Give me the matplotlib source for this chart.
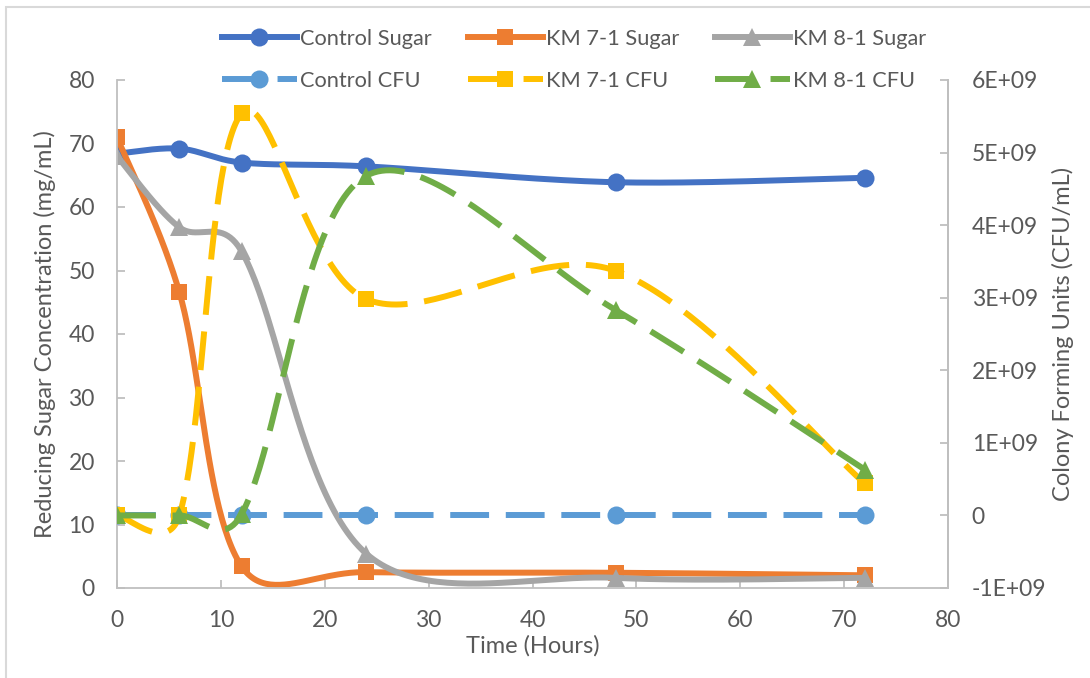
import numpy as np
import matplotlib
matplotlib.use("Agg")
import matplotlib.pyplot as plt
from matplotlib.patches import Rectangle

# time points (hours)
hours = [0, 6, 12, 24, 48, 72]

# reducing sugar (mg/mL), left axis
control_sugar = [68.4, 69.2, 67.0, 66.4, 63.9, 64.6]
km71_sugar = [71.0, 46.6, 3.4, 2.5, 2.4, 2.0]
km81_sugar = [68.0, 56.8, 53.0, 5.4, 1.6, 1.6]

# colony forming units (CFU/mL), right axis
control_cfu = [0, 0, 0, 0, 0, 0]
km71_cfu = [0.0, 0.0, 5.54e9, 2.98e9, 3.37e9, 0.44e9]
km81_cfu = [0.0, 0.0, 0.02e9, 4.68e9, 2.83e9, 0.63e9]

TXT = "#595959"
AXC = "#BFBFBF"
FS = 16.5

plt.rcParams["font.family"] = ["Lato", "DejaVu Sans"]
plt.rcParams["font.size"] = FS


def smooth(axis, x, y, n=50, alpha=0.4):
    """Excel-like smoothed line: Catmull-Rom tangents in pixel space,
    damped next to much longer neighbouring segments."""
    P = axis.transData.transform(np.column_stack([x, y]).astype(float))
    m = len(P)
    d = np.linalg.norm(np.diff(P, axis=0), axis=1)
    out_c, in_c = [], []
    for i in range(m):
        T = P[min(i + 1, m - 1)] - P[max(i - 1, 0)]
        dl = d[i - 1] if i > 0 else 0.0
        dr = d[i] if i < m - 1 else 0.0
        s = dl + dr
        if i == 0 or i == m - 1:
            out_c.append(P[i] + T / 6)
            in_c.append(P[i] - T / 6)
            continue
        out_c.append(P[i] + T / 6 * (2 * dr / s) ** alpha)
        in_c.append(P[i] - T / 6 * (2 * dl / s) ** alpha)
    t = np.linspace(0, 1, n)[:, None]
    segs = []
    for i in range(m - 1):
        p0, c1, c2, p3 = P[i], out_c[i], in_c[i + 1], P[i + 1]
        segs.append((1 - t) ** 3 * p0 + 3 * (1 - t) ** 2 * t * c1
                    + 3 * (1 - t) * t ** 2 * c2 + t ** 3 * p3)
    pts = axis.transData.inverted().transform(np.vstack(segs))
    return pts[:, 0], pts[:, 1]


fig = plt.figure(figsize=(10.9, 6.78), dpi=100)
ax = fig.add_axes([117 / 1090, 1 - 588 / 678, (948 - 117) / 1090, (588 - 80) / 678])
ax2 = ax.twinx()

fig.patches.append(Rectangle((6 / 1090, -0.05), 1.2, 1 - 7 / 678 + 0.05,
                             transform=fig.transFigure, fill=False,
                             edgecolor="#D9D9D9", linewidth=1.5))

ax.set_xlim(0, 80)
ax.set_ylim(0, 80)
ax.set_xticks(np.arange(0, 81, 10))
ax.set_yticks(np.arange(0, 81, 10))
ax2.set_ylim(-1e9, 6e9)
ax2.set_yticks(np.arange(-1, 7) * 1e9)
ax2.set_yticklabels(["-1E+09", "0", "1E+09", "2E+09", "3E+09", "4E+09", "5E+09", "6E+09"])

LW = 4.3
DASH = (0, (6.5, 2.8))
handles = []


def series(axis, y, color, marker, ms, label, ls="-"):
    sx, sy = smooth(axis, hours, y)
    axis.plot(sx, sy, color=color, linewidth=LW, linestyle=ls, solid_capstyle="round",
              dash_capstyle="butt")
    axis.plot(hours, y, linestyle="none", marker=marker, markersize=ms,
              color=color, markeredgewidth=0)
    h, = axis.plot([], [], color=color, linewidth=LW, linestyle=ls, marker=marker,
                   markersize=ms, markeredgewidth=0, label=label)
    handles.append(h)


series(ax, control_sugar, "#4472C4", "o", 13, "Control Sugar")
series(ax, km71_sugar, "#ED7D31", "s", 12, "KM 7-1 Sugar")
series(ax, km81_sugar, "#A5A5A5", "^", 13, "KM 8-1 Sugar")
series(ax2, control_cfu, "#5B9BD5", "o", 13, "Control CFU", DASH)
series(ax2, km71_cfu, "#FFC000", "s", 12, "KM 7-1 CFU", DASH)
series(ax2, km81_cfu, "#70AD47", "^", 13, "KM 8-1 CFU", DASH)

for a in (ax, ax2):
    for s in a.spines.values():
        s.set_color(AXC)
        s.set_linewidth(1.3)
    a.spines["top"].set_visible(False)
    a.tick_params(direction="in", length=6, width=1.3, color=AXC, labelcolor=TXT,
                  labelsize=FS)
ax2.spines["left"].set_visible(False)
ax2.spines["bottom"].set_visible(False)
ax.tick_params(axis="y", pad=16)
ax.tick_params(axis="x", pad=16)
ax2.tick_params(axis="y", pad=17)

ax.set_xlabel("Time (Hours)", color=TXT, fontsize=17, labelpad=3)
ax.set_ylabel("Reducing Sugar Concentration (mg/mL)", color=TXT, fontsize=17)
ax.yaxis.set_label_coords(-0.074, 0.5)
ax2.set_ylabel("Colony Forming Units (CFU/mL)", color=TXT, fontsize=17, labelpad=4)

order = [0, 3, 1, 4, 2, 5]
leg = fig.legend([handles[i] for i in order], [handles[i].get_label() for i in order],
                 ncol=3, loc="center", bbox_to_anchor=(574 / 1090, 1 - 60 / 678),
                 frameon=False, handlelength=3.44, handletextpad=0.14, columnspacing=1.65,
                 labelspacing=1.0, fontsize=15.7)
for t in leg.get_texts():
    t.set_color(TXT)

fig.savefig("out.png", dpi=100)
